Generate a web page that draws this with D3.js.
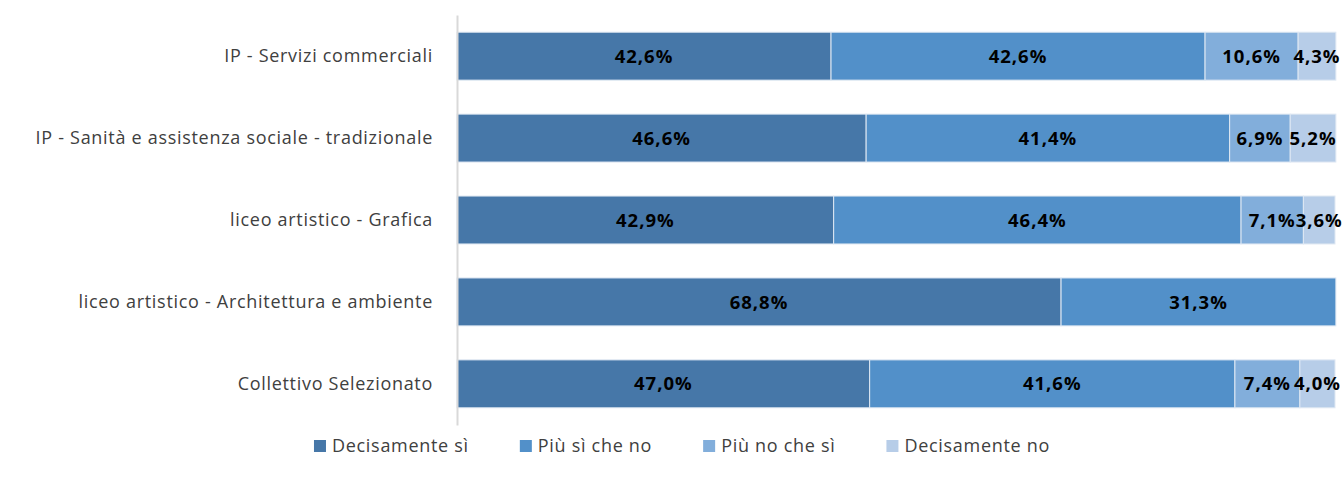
<!DOCTYPE html>
<html>
<head>
<meta charset="UTF-8">
<style>
  body { margin: 0; background: #fff; }
  svg { font-family: "Open Sans", "Liberation Sans", sans-serif; }
</style>
</head>
<body>
<svg id="chart" width="1343" height="484"></svg>
<script src="https://cdn.jsdelivr.net/npm/d3@7"></script>
<script>
  var categories = [
    "IP - Servizi commerciali",
    "IP - Sanità e assistenza sociale - tradizionale",
    "liceo artistico - Grafica",
    "liceo artistico - Architettura e ambiente",
    "Collettivo Selezionato"
  ];
  var seriesNames = ["Decisamente sì", "Più sì che no", "Più no che sì", "Decisamente no"];
  var decisamenteSi = [42.6, 46.6, 42.9, 68.8, 47.0];
  var piuSiCheNo    = [42.6, 41.4, 46.4, 31.3, 41.6];
  var piuNoCheSi    = [10.6, 6.9, 7.1, 0, 7.4];
  var decisamenteNo = [4.3, 5.2, 3.6, 0, 4.0];
  var colors = ["#4677a8", "#5290c9", "#82aedb", "#b7cde8"];

  var values = [decisamenteSi, piuSiCheNo, piuNoCheSi, decisamenteNo];
  var rows = categories.map(function(c, i) {
    var r = { cat: c };
    seriesNames.forEach(function(s, k) { r[s] = values[k][i]; });
    return r;
  });
  var stacked = d3.stack().keys(seriesNames)(rows);

  var svg = d3.select("#chart");
  var left = 457, right = 1335;

  var x = d3.scaleLinear().domain([0, 100]).range([left, right]);
  var y = d3.scaleBand().domain(categories).range([15, 425]).paddingInner(0.415).paddingOuter(0.21);

  var g = svg.append("g");

  g.selectAll(".series")
    .data(stacked)
    .enter()
    .append("g")
    .attr("fill", function(d, i) { return colors[i]; })
    .selectAll("rect")
    .data(function(d) { return d.filter(function(p) { return p[1] - p[0] > 0; }); })
    .enter()
    .append("rect")
    .attr("x", function(d) { return x(d[0]); })
    .attr("width", function(d) { return x(d[1]) - x(d[0]); })
    .attr("y", function(d) { return y(d.data.cat); })
    .attr("height", y.bandwidth())
    .attr("stroke", "#dfe8f3")
    .attr("stroke-width", 1);

  // value labels
  stacked.forEach(function(s) {
    g.selectAll(null)
      .data(s.filter(function(p) { return p[1] - p[0] > 0; }))
      .enter()
      .append("text")
      .attr("x", function(d) { return (x(d[0]) + x(d[1])) / 2; })
      .attr("y", function(d) { return y(d.data.cat) + y.bandwidth() / 2; })
      .attr("dy", "0.36em")
      .attr("text-anchor", "middle")
      .attr("font-size", "18.5px")
      .attr("font-weight", "bold")
      .attr("letter-spacing", "1px")
      .attr("fill", "#000")
      .text(function(d) { return d3.format(".1f")(d[1] - d[0]).replace(".", ",") + "%"; });
  });

  // category axis
  var yAxis = d3.axisLeft(y).tickSize(0).tickPadding(24);
  var ax = svg.append("g").attr("transform", "translate(" + left + ",0)").call(yAxis);
  ax.select(".domain").attr("stroke", "#d9d9d9").attr("stroke-width", 2);
  ax.selectAll("text")
    .attr("font-size", "18px")
    .attr("letter-spacing", "0.7px")
    .attr("fill", "#404040")
    .attr("font-family", "\"Open Sans\", \"Liberation Sans\", sans-serif");

  // legend
  var legend = svg.append("g").attr("font-size", "18px").attr("letter-spacing", "0.7px").attr("fill", "#404040");
  var items = legend.selectAll("g").data(seriesNames).enter().append("g");
  items.append("rect").attr("width", 12).attr("height", 12).attr("y", -6)
    .attr("fill", function(d, i) { return colors[i]; });
  items.append("text").attr("x", 18).attr("dy", "0.35em").text(function(d) { return d; });
  var pos = 0, gap = 51;
  var offsets = [];
  items.each(function() {
    offsets.push(pos);
    pos += this.getBBox().width + gap;
  });
  var total = pos - gap;
  var start = 682 - total / 2;
  items.attr("transform", function(d, i) { return "translate(" + (start + offsets[i]) + ",446)"; });
</script>
</body>
</html>
